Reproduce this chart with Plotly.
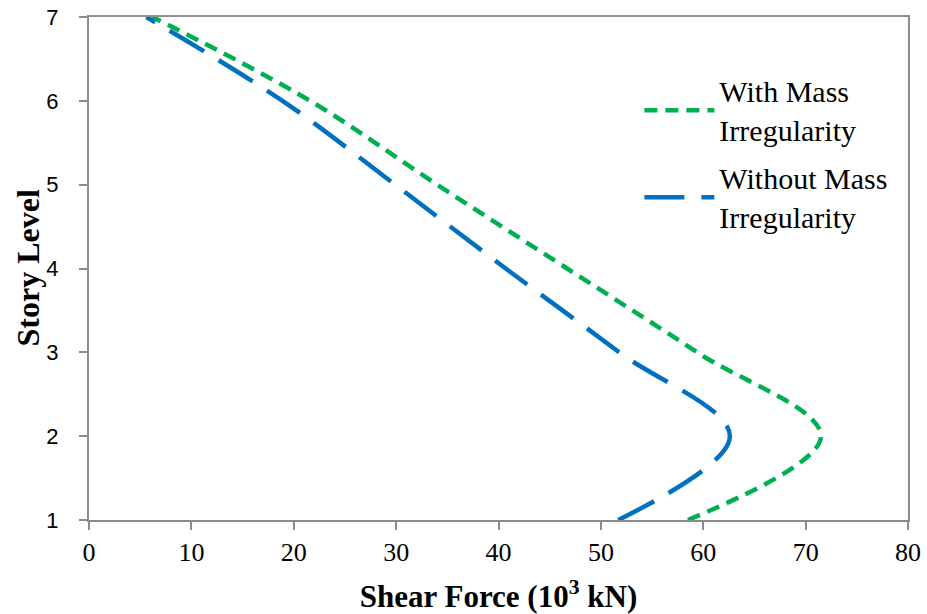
import plotly.graph_objects as go

story = [1, 2, 3, 4, 5, 6, 7]
with_mass = [58.5, 71.5, 59.4, 46.7, 34.0, 21.6, 6.2]
without_mass = [51.7, 62.6, 51.8, 40.7, 29.9, 18.9, 5.6]

x_ticks = [0, 10, 20, 30, 40, 50, 60, 70, 80]
y_ticks = [1, 2, 3, 4, 5, 6, 7]

fig = go.Figure()
fig.add_trace(go.Scatter(
    x=with_mass, y=story, mode="lines", name="With Mass<br>Irregularity",
    legendgroup="a",
    line=dict(color="#00b050", width=4.5, dash="13px,8px", shape="spline", smoothing=1.0),
))
fig.add_trace(go.Scatter(
    x=without_mass, y=story, mode="lines", name="Without Mass<br>Irregularity",
    legendgroup="b",
    line=dict(color="#0070c0", width=4.5, dash="40px,17px", shape="spline", smoothing=1.0),
))

axis_color = "#8c8c8c"
fig.update_layout(
    width=927, height=614,
    margin=dict(l=89, r=19, t=17, b=94, autoexpand=False),
    paper_bgcolor="white", plot_bgcolor="white",
    showlegend=True,
    legend=dict(
        x=0.672, y=0.905, xanchor="left", yanchor="top",
        font=dict(family="Liberation Serif", size=30, color="black"),
        bgcolor="rgba(0,0,0,0)", itemwidth=70, tracegroupgap=6,
    ),
    xaxis=dict(
        range=[0, 80], tickvals=x_ticks, showgrid=False, zeroline=False,
        automargin=False,
        showline=True, linecolor=axis_color, linewidth=2, mirror=True,
        ticks="outside", ticklen=8, tickwidth=2, tickcolor=axis_color,
        tickfont=dict(family="Liberation Serif", size=26, color="black"),
        title=dict(text="<b>Shear Force (10<sup>3</sup> kN)</b>",
                   font=dict(family="Liberation Serif", size=31, color="black"),
                   standoff=21),
    ),
    yaxis=dict(
        range=[1, 7], tickvals=y_ticks, showgrid=False, zeroline=False,
        automargin=False,
        showline=True, linecolor=axis_color, linewidth=2, mirror=True,
        ticks="outside", ticklen=8, tickwidth=2, tickcolor=axis_color,
        ticklabelstandoff=16,
        tickfont=dict(family="Liberation Sans", size=22, color="black"),
    ),
    annotations=[dict(
        text="<b>Story Level</b>", textangle=-90,
        xref="paper", yref="paper", x=0, y=0.5, xanchor="center", yanchor="middle",
        xshift=-62, showarrow=False,
        font=dict(family="Liberation Serif", size=32, color="black"),
    )],
)

fig.write_html("out.html")
